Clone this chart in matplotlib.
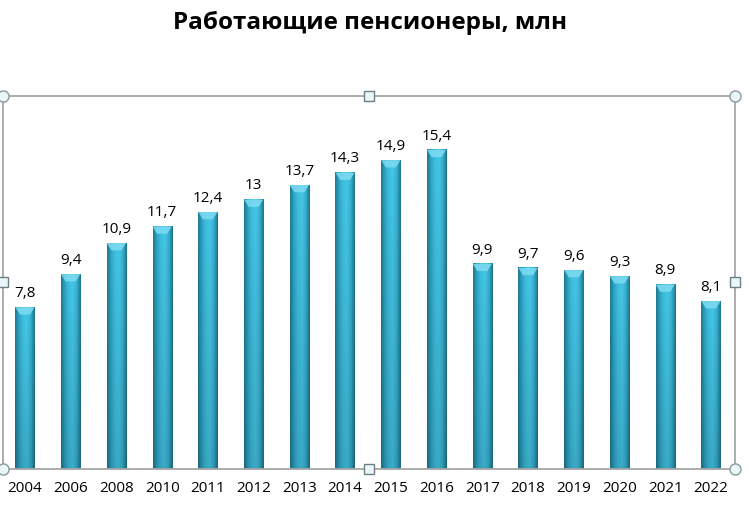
import numpy as np
import matplotlib
matplotlib.use('Agg')
import matplotlib.pyplot as plt
from matplotlib.colors import LinearSegmentedColormap

plt.rcParams['font.family'] = ['Open Sans', 'DejaVu Sans']

# --- данные ---
years = ['2004', '2006', '2008', '2010', '2011', '2012', '2013', '2014',
         '2015', '2016', '2017', '2018', '2019', '2020', '2021', '2022']
values = [7.8, 9.4, 10.9, 11.7, 12.4, 13, 13.7, 14.3,
          14.9, 15.4, 9.9, 9.7, 9.6, 9.3, 8.9, 8.1]
labels = ['7,8', '9,4', '10,9', '11,7', '12,4', '13', '13,7', '14,3',
          '14,9', '15,4', '9,9', '9,7', '9,6', '9,3', '8,9', '8,1']

fig = plt.figure(figsize=(7.49, 5.05), dpi=100)
ax = fig.add_axes([0.004, 0.0713, 0.977, 0.7387])
ax.set_xlim(-0.48, 15.52)
ax.set_ylim(0, 18)
ax.axis('off')

fig.text(0.494, 0.955, 'Работающие пенсионеры, млн', ha='center', va='center',
         fontsize=17.5, fontweight='bold')

# градиент "цилиндра": тёмные края, светлая середина
cyl = LinearSegmentedColormap.from_list(
    'cyl', ['#1f7890', '#2ea6c6', '#3fbfe0', '#45c6e6', '#36b0cf', '#1e7389'])
xs = np.linspace(0, 1, 64)
vert = np.linspace(0.86, 1.0, 64)[:, None]
rgb = cyl(xs)[None, :, :3] * vert[:, :, None]
rgb = np.clip(rgb, 0, 1)

bar_w = 0.42
for i, v in enumerate(values):
    ax.imshow(rgb, extent=(i - bar_w / 2, i + bar_w / 2, 0, v),
              origin='lower', aspect='auto', zorder=2, interpolation='bilinear')
    # светлая фаска сверху
    cap_h = 0.35
    ax.fill([i - bar_w / 2, i + bar_w / 2, i + bar_w / 2 - 0.1, i - bar_w / 2 + 0.1],
            [v, v, v - cap_h, v - cap_h], color='#7fdcf2', alpha=0.85, lw=0, zorder=3)
    ax.text(i, v + 0.3, labels[i], ha='center', va='bottom', fontsize=11, zorder=4)
    ax.text(i, -0.6, years[i], ha='center', va='top', fontsize=11,
            clip_on=False)

# рамка выделения с маркерами
frame = dict(color='#a6a6a6', lw=1.3, transform=ax.transAxes, clip_on=False, zorder=5)
ax.plot([0, 1, 1, 0, 0], [0, 0, 1, 1, 0], **frame)
for (x, y) in [(0, 0), (1, 0), (0, 1), (1, 1)]:
    ax.plot(x, y, 'o', ms=8, mfc='#eaf6f8', mec='#8a9a9e', mew=1,
            transform=ax.transAxes, clip_on=False, zorder=6)
for (x, y) in [(0.5, 0), (0.5, 1), (0, 0.5), (1, 0.5)]:
    ax.plot(x, y, 's', ms=7, mfc='#eaf6f8', mec='#6f7f85', mew=1,
            transform=ax.transAxes, clip_on=False, zorder=6)

fig.savefig('out.png', dpi=100)
